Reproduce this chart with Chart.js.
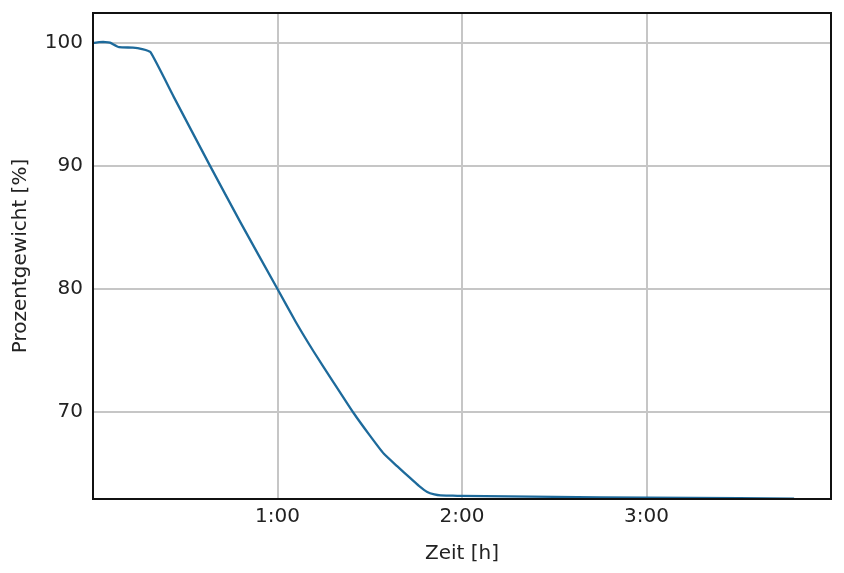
<!DOCTYPE html>
<html>
<head>
<meta charset="utf-8">
<script src="https://cdn.jsdelivr.net/npm/chart.js@4"></script>
<style>
html,body{margin:0;padding:0;background:#fff;}
#wrap{width:844px;height:573px;}
</style>
</head>
<body>
<div id="wrap"><canvas id="c" width="844" height="573"></canvas></div>
<script>
// time in minutes
const minutes = [0, 2, 4, 5.5, 8.5, 13, 16, 18.7, 26.3, 38.2, 48, 60, 66, 71.8, 78, 84.8, 90, 94.6, 98.9, 103.3, 106, 108.7, 111, 113, 117, 120, 150, 180, 210, 228];
const weightPct = [100.0, 100.07, 100.08, 100.03, 99.66, 99.63, 99.5, 99.25, 95.6, 89.95, 85.4, 80.0, 77.3, 74.9, 72.5, 69.9, 68.1, 66.6, 65.6, 64.6, 64.0, 63.5, 63.3, 63.22, 63.2, 63.18, 63.1, 63.03, 62.99, 62.96];
const xTicks = [0, 60, 120, 180, 240];
const yTicks = [70, 80, 90, 100];
const xLabelText = 'Zeit [h]';
const yLabelText = 'Prozentgewicht [%]';

const points = minutes.map((t, i) => ({x: t, y: weightPct[i]}));

const frame = {
  id: 'frame',
  afterDraw(chart) {
    const a = chart.chartArea, ctx = chart.ctx;
    ctx.save();
    ctx.strokeStyle = '#111';
    ctx.lineWidth = 2;
    ctx.strokeRect(a.left, a.top, a.right - a.left, a.bottom - a.top);
    ctx.restore();
  }
};

new Chart(document.getElementById('c'), {
  type: 'scatter',
  data: {
    datasets: [{
      data: points,
      showLine: true,
      borderColor: '#1d6a9b',
      borderWidth: 2.3,
      pointRadius: 0,
      tension: 0.15,
      fill: false
    }]
  },
  options: {
    responsive: false,
    animation: false,
    layout: {padding: {left: 0, right: 13, top: 13, bottom: 0}},
    plugins: {legend: {display: false}, tooltip: {enabled: false}},
    scales: {
      x: {
        type: 'linear',
        min: 0, max: 240,
        afterBuildTicks: s => { s.ticks = xTicks.map(v => ({value: v})); },
        afterFit: s => { s.height = 74; s.paddingLeft = 0; s.paddingRight = 0; },
        grid: {color: '#c6c6c6', lineWidth: 2, drawTicks: false},
        border: {display: false},
        ticks: {
          padding: 6,
          color: '#222',
          font: {family: 'DejaVu Sans', size: 20},
          callback: v => (v === 0 || v === 240) ? '' : (v / 60) + ':00'
        },
        title: {display: true, text: xLabelText, color: '#222', font: {family: 'DejaVu Sans', size: 20}, padding: {top: 4, bottom: 7}}
      },
      y: {
        type: 'linear',
        min: 62.93, max: 102.44,
        afterBuildTicks: s => { s.ticks = yTicks.map(v => ({value: v})); },
        afterFit: s => { s.width = 93; s.paddingTop = 0; s.paddingBottom = 0; },
        grid: {color: '#c6c6c6', lineWidth: 2, drawTicks: false},
        border: {display: false},
        ticks: {
          padding: 10,
          color: '#222',
          font: {family: 'DejaVu Sans', size: 20}
        },
        title: {display: true, text: yLabelText, color: '#222', font: {family: 'DejaVu Sans', size: 20}, padding: {top: 9, bottom: 9}}
      }
    }
  },
  plugins: [frame]
});
</script>
</body>
</html>
